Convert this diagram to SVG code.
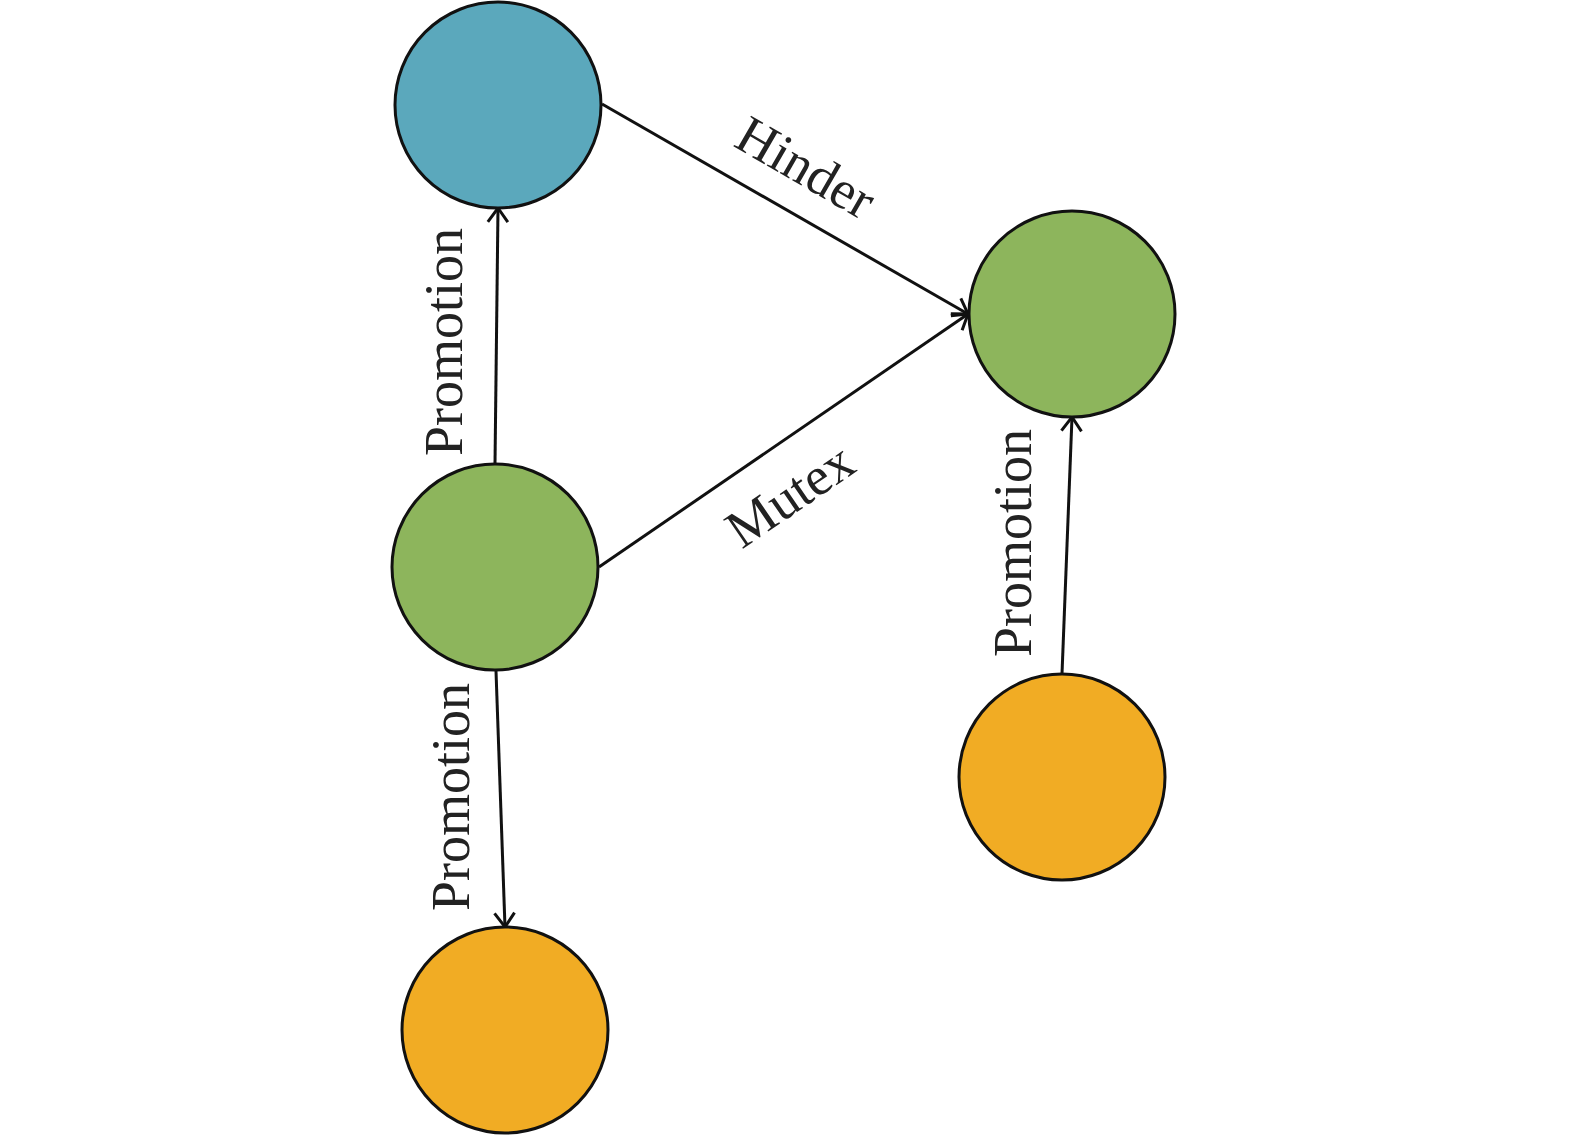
<svg xmlns="http://www.w3.org/2000/svg" width="1575" height="1139" viewBox="0 0 1575 1139">
<defs>
<style>
.node{stroke:#111;stroke-width:3}
.edge{stroke:#111;stroke-width:3;fill:none}
.lbl{font-family:"Liberation Serif","Times New Roman",serif;font-size:54px;fill:#222;text-anchor:middle}
</style>
<marker id="arr" markerUnits="userSpaceOnUse" markerWidth="24" markerHeight="24" refX="18" refY="10" orient="auto" viewBox="0 0 24 20">
<path d="M4,0 L18,10 L4,20" fill="none" stroke="#111" stroke-width="3"/>
</marker>
</defs>
<rect width="1575" height="1139" fill="#fff"/>
<g id="connectors">
<line class="edge" x1="495" y1="464" x2="498" y2="208" marker-end="url(#arr)"/>
<line class="edge" x1="496" y1="671" x2="505" y2="927" marker-end="url(#arr)"/>
<line class="edge" x1="1062" y1="674" x2="1072" y2="417" marker-end="url(#arr)"/>
<line class="edge" x1="602" y1="104" x2="968" y2="314" marker-end="url(#arr)"/>
<line class="edge" x1="599" y1="567" x2="968" y2="314" marker-end="url(#arr)"/>
<text class="lbl" transform="translate(462,342) rotate(-90)">Promotion</text>
<text class="lbl" transform="translate(469,797) rotate(-90)">Promotion</text>
<text class="lbl" transform="translate(1031,543) rotate(-90)">Promotion</text>
<text class="lbl" transform="translate(797,183) rotate(30)">Hinder</text>
<text class="lbl" transform="translate(800,510) rotate(-34.4)">Mutex</text>
</g>
<g id="node-blue"><circle class="node" cx="498" cy="105" r="103" fill="#5BA8BC"/></g>
<g id="node-green-left"><circle class="node" cx="495" cy="567" r="103" fill="#8DB55C"/></g>
<g id="node-green-right"><circle class="node" cx="1072" cy="314" r="103" fill="#8DB55C"/></g>
<g id="node-orange-left"><circle class="node" cx="505" cy="1030" r="103" fill="#F1AC24"/></g>
<g id="node-orange-right"><circle class="node" cx="1062" cy="777" r="103" fill="#F1AC24"/></g>
</svg>
